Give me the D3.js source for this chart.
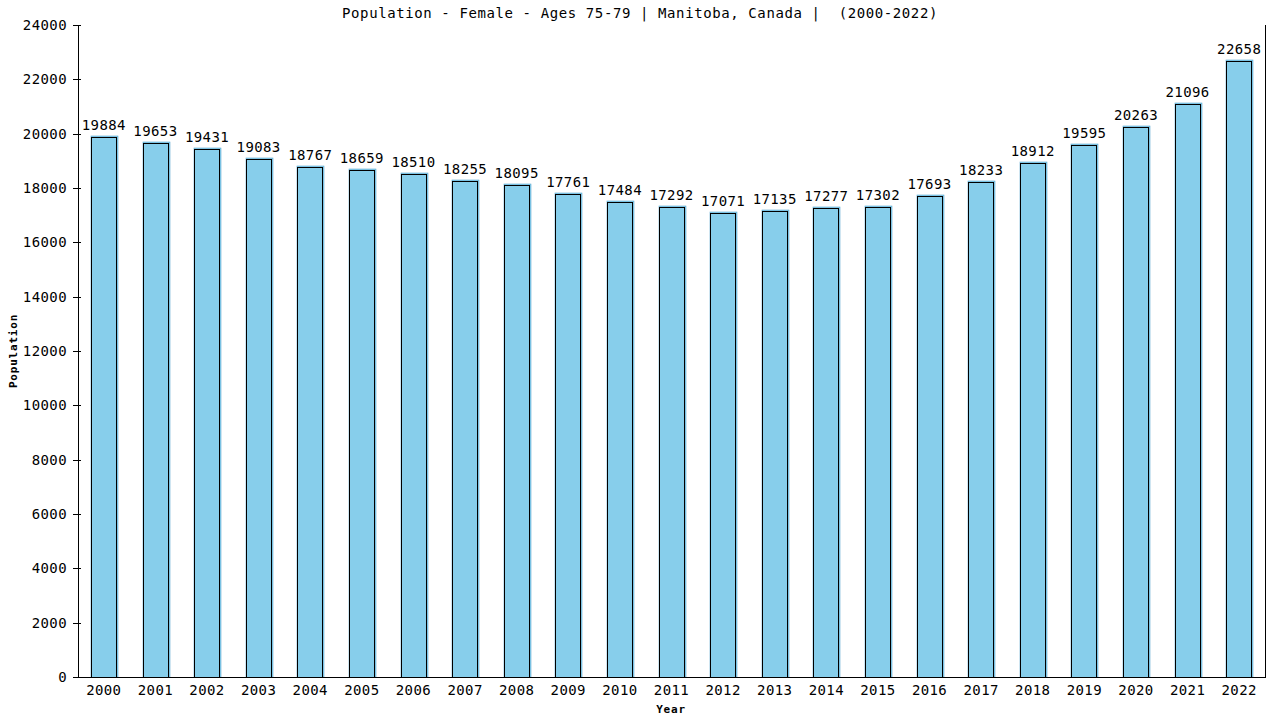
<!DOCTYPE html>
<html>
<head>
<meta charset="utf-8">
<script src="https://cdn.jsdelivr.net/npm/d3@7"></script>
<style>
  body { margin: 0; background: #fff; }
  text { font-family: "DejaVu Sans Mono", monospace; fill: #000; }
</style>
</head>
<body>
<div id="chart"></div>
<script>
// chart data
var years = ["2000","2001","2002","2003","2004","2005","2006","2007","2008","2009","2010","2011",
             "2012","2013","2014","2015","2016","2017","2018","2019","2020","2021","2022"];
var population = [19884,19653,19431,19083,18767,18659,18510,18255,18095,17761,17484,17292,
                  17071,17135,17277,17302,17693,18233,18912,19595,20263,21096,22658];
var yTicks = [0,2000,4000,6000,8000,10000,12000,14000,16000,18000,20000,22000,24000];

var W = 1280, H = 720;
var plotLeft = 78, plotRight = 1265, plotTop = 25, plotBottom = 677;

var svg = d3.select("#chart").append("svg")
  .attr("width", W)
  .attr("height", H);

var x = d3.scaleBand()
  .domain(years)
  .range([plotLeft, plotRight])
  .paddingInner(0.5)
  .paddingOuter(0.25);

var y = d3.scaleLinear()
  .domain([0, 24000])
  .range([plotBottom, plotTop]);

// bars: blue fill with black outline shifted 1px down
var bars = svg.append("g").selectAll("g")
  .data(years)
  .enter().append("g");

bars.append("rect")
  .attr("x", function(d){ return Math.round(x(d)); })
  .attr("y", function(d, i){ return Math.round(y(population[i])) - 1; })
  .attr("width", Math.round(x.bandwidth()) + 1)
  .attr("height", function(d, i){ return plotBottom - Math.round(y(population[i])) + 1; })
  .style("fill", "#87CEEB")
  .style("stroke", "#5fa8cf")
  .style("stroke-width", 0.6);

bars.append("rect")
  .attr("x", function(d){ return Math.round(x(d)) + 0.5; })
  .attr("y", function(d, i){ return Math.round(y(population[i])) + 0.5; })
  .attr("width", Math.round(x.bandwidth()) - 1)
  .attr("height", function(d, i){ return plotBottom - Math.round(y(population[i])); })
  .style("fill", "#87CEEB")
  .style("stroke", "#000")
  .style("stroke-width", 1);

// value labels
bars.append("text")
  .attr("x", function(d){ return x(d) + x.bandwidth() / 2; })
  .attr("y", function(d, i){ return y(population[i]) - 7; })
  .attr("text-anchor", "middle")
  .attr("font-size", 14)
  .attr("letter-spacing", 0.4)
  .text(function(d, i){ return population[i]; });

// axis lines (left, right, bottom)
svg.append("line")
  .attr("x1", plotLeft + 0.5).attr("x2", plotLeft + 0.5)
  .attr("y1", plotTop).attr("y2", plotBottom)
  .style("stroke", "#000");
svg.append("line")
  .attr("x1", plotRight + 0.5).attr("x2", plotRight + 0.5)
  .attr("y1", plotTop).attr("y2", plotBottom)
  .style("stroke", "#000");
svg.append("line")
  .attr("x1", plotLeft).attr("x2", plotRight + 1)
  .attr("y1", plotBottom + 0.5).attr("y2", plotBottom + 0.5)
  .style("stroke", "#000");

// y ticks
var yt = svg.append("g").selectAll("g")
  .data(yTicks)
  .enter().append("g");
yt.append("line")
  .attr("x1", plotLeft - 5).attr("x2", plotLeft + 3)
  .attr("y1", function(d){ return Math.round(y(d)) + 0.5; })
  .attr("y2", function(d){ return Math.round(y(d)) + 0.5; })
  .style("stroke", "#000");
yt.append("text")
  .attr("x", 67)
  .attr("y", function(d){ return y(d) + 5; })
  .attr("text-anchor", "end")
  .attr("font-size", 14)
  .attr("letter-spacing", 0.4)
  .text(function(d){ return d; });

// x labels
svg.append("g").selectAll("text")
  .data(years)
  .enter().append("text")
  .attr("x", function(d){ return x(d) + x.bandwidth() / 2; })
  .attr("y", 695)
  .attr("text-anchor", "middle")
  .attr("font-size", 14)
  .attr("letter-spacing", 0.4)
  .text(function(d){ return d; });

// title
svg.append("text")
  .attr("x", 640)
  .attr("y", 18)
  .attr("text-anchor", "middle")
  .attr("font-size", 14)
  .attr("letter-spacing", 0.6)
  .style("white-space", "pre")
  .text("Population - Female - Ages 75-79 | Manitoba, Canada |  (2000-2022)");

// axis titles
svg.append("text")
  .attr("x", 671)
  .attr("y", 713)
  .attr("text-anchor", "middle")
  .attr("font-size", 11)
  .attr("font-weight", "bold")
  .attr("letter-spacing", 0.8)
  .text("Year");

svg.append("text")
  .attr("transform", "translate(17," + ((plotTop + plotBottom) / 2) + ") rotate(-90)")
  .attr("text-anchor", "middle")
  .attr("font-size", 11)
  .attr("font-weight", "bold")
  .attr("letter-spacing", 0.8)
  .text("Population");
</script>
</body>
</html>
